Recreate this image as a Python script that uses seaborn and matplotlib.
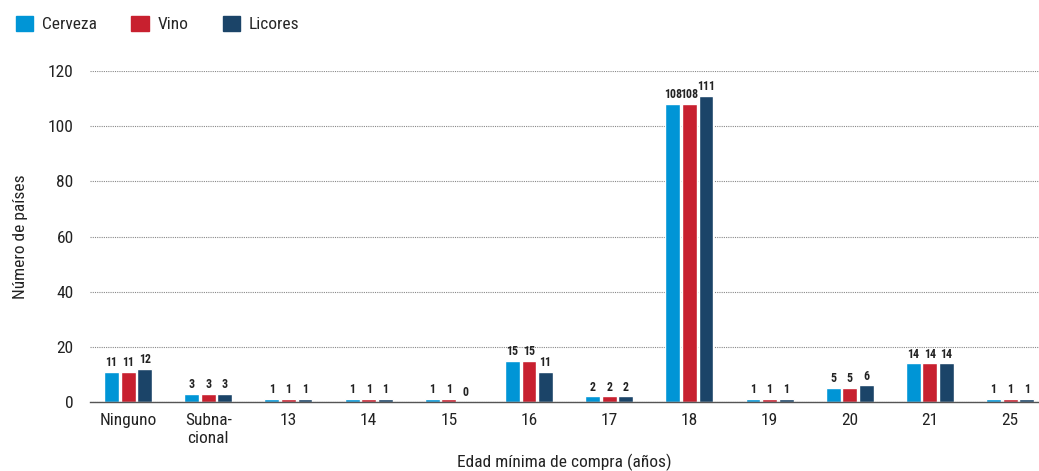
import pandas as pd
import matplotlib.pyplot as plt
import seaborn as sns
from matplotlib.patches import Patch

# ---------- DATA ----------
categories = ["Ninguno", "Subna-\ncional", "13", "14", "15", "16", "17", "18", "19", "20", "21", "25"]
cerveza = [11, 3, 1, 1, 1, 15, 2, 108, 1, 5, 14, 1]
vino = [11, 3, 1, 1, 1, 15, 2, 108, 1, 5, 14, 1]
licores = [12, 3, 1, 1, 0, 11, 2, 111, 1, 6, 14, 1]
series = ["Cerveza", "Vino", "Licores"]
colors = ["#0095d6", "#c8202f", "#1b4468"]

df = pd.DataFrame({
    "edad": categories * 3,
    "bebida": [s for s in series for _ in categories],
    "paises": cerveza + vino + licores,
})

sns.set_style("white")
plt.rcParams["font.family"] = ["Roboto Condensed", "DejaVu Sans"]

fig = plt.figure(figsize=(10.39, 4.71), dpi=100)
ax = fig.add_axes([0.087, 0.1465, 0.913, 0.7025])

sns.barplot(data=df, x="edad", y="paises", hue="bebida", order=categories,
            hue_order=series, palette=colors, saturation=1, width=0.62, gap=0.1,
            legend=False, ax=ax)

for cont in ax.containers:
    ax.bar_label(cont, fmt="%d", padding=2, fontsize=8.6, fontweight="bold",
                 color="#222222")

ax.set_ylim(0, 120)
ax.set_xlim(-0.47, 11.36)
ax.set_yticks([0, 20, 40, 60, 80, 100, 120])
ax.yaxis.grid(True, linestyle=(0, (1, 1)), color="#888888", linewidth=0.8)
ax.set_axisbelow(True)
for s in ["top", "right", "left"]:
    ax.spines[s].set_visible(False)
ax.spines["bottom"].set_color("#555555")
ax.spines["bottom"].set_linewidth(1)
ax.tick_params(axis="both", length=0, labelsize=12.5, colors="#222222")
ax.tick_params(axis="x", pad=8)
ax.tick_params(axis="y", pad=12)
ax.set_xlabel("Edad mínima de compra (años)", fontsize=12.5, color="#222222", labelpad=6)
ax.set_ylabel("Número de países", fontsize=12.5, color="#222222", labelpad=14)

handles = [Patch(color=c, label=s) for c, s in zip(colors, series)]
fig.legend(handles=handles, loc="upper left", bbox_to_anchor=(0.0, 1.0), ncol=3,
           frameon=False, fontsize=12.5, handlelength=1.0, handleheight=1.0,
           handletextpad=0.5, columnspacing=2.0)

plt.savefig("out.png", dpi=100)
